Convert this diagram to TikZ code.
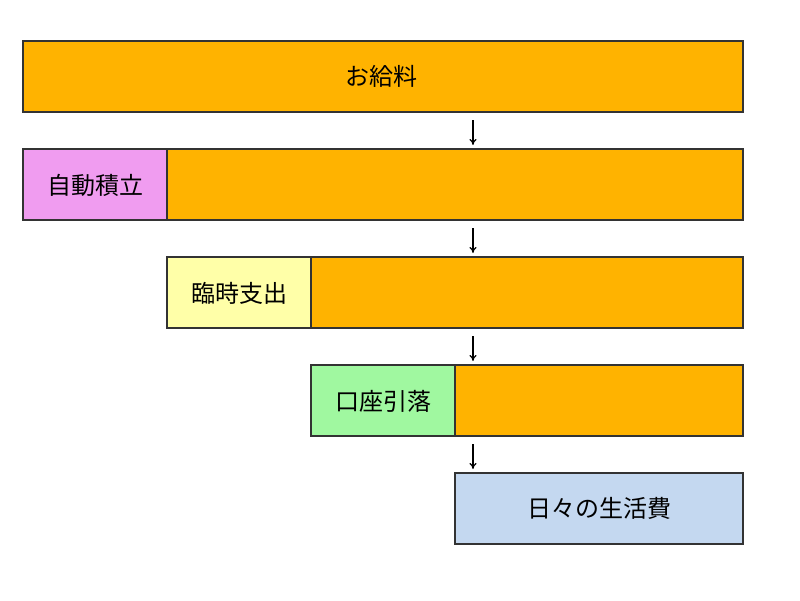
\documentclass[tikz,border=0pt]{standalone}
\usepackage{fontspec}
\newfontfamily\cjk{Noto Sans CJK JP}
\usetikzlibrary{arrows.meta}
\definecolor{org}{HTML}{FFB300}
\definecolor{pk}{HTML}{F09CF0}
\definecolor{yl}{HTML}{FFFFA8}
\definecolor{gr}{HTML}{A0F8A0}
\definecolor{bl}{HTML}{C4D8F0}
\begin{document}
\begin{tikzpicture}[x=1pt,y=-1pt,
 bx/.style={draw=black!80,line width=1.4pt},
 lbl/.style={font=\cjk\fontsize{24}{26}\selectfont},
 arr/.style={-{To[length=6pt,width=7pt]},line width=1.1pt}]
\useasboundingbox (0,0) rectangle (800,600);
\fill[white] (0,0) rectangle (800,600);
\filldraw[bx,fill=org] (23,41) rectangle (743,112);
\node[lbl] (a) at (381,76) {お給料};
\filldraw[bx,fill=org] (23,149) rectangle (743,220);
\filldraw[bx,fill=pk] (23,149) rectangle (167,220);
\node[lbl] (b) at (95,185) {自動積立};
\filldraw[bx,fill=org] (167,257) rectangle (743,328);
\filldraw[bx,fill=yl] (167,257) rectangle (311,328);
\node[lbl] (c) at (239,293) {臨時支出};
\filldraw[bx,fill=org] (311,365) rectangle (743,436);
\filldraw[bx,fill=gr] (311,365) rectangle (455,436);
\node[lbl] (d) at (383,401) {口座引落};
\filldraw[bx,fill=bl] (455,473) rectangle (743,544);
\node[lbl] (e) at (599,508) {日々の生活費};
\foreach \i/\y in {1/112,2/220,3/328,4/436}{
 \coordinate (s\i) at (473,\y+8);
 \coordinate (t\i) at (473,\y+33);
 \draw[arr] (s\i) -- (t\i);}
\end{tikzpicture}
\end{document}
